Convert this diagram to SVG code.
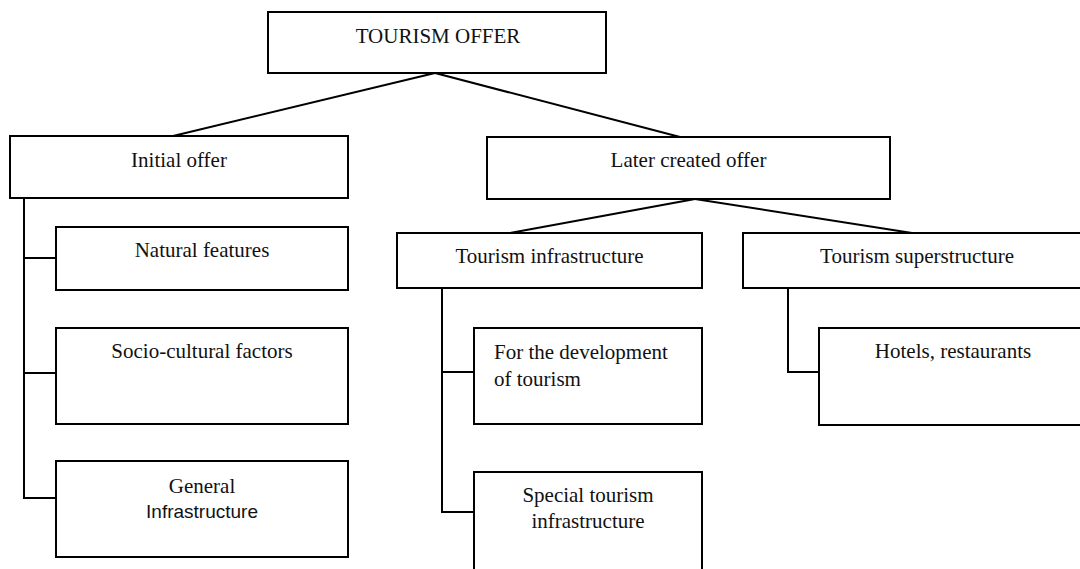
<svg xmlns="http://www.w3.org/2000/svg" width="1080" height="569" viewBox="0 0 1080 569">
<style>
.box{fill:#fff;stroke:#000;stroke-width:2}
.t{font-family:'Liberation Serif','Times New Roman',Tinos,'DejaVu Serif',serif;font-size:21px;fill:#111}
.s{font-family:'Liberation Sans',Arial,sans-serif;font-size:19px;fill:#111}
.c{text-anchor:middle}
.ln{fill:none;stroke:#000;stroke-width:2}
</style>
<rect width="1080" height="569" fill="#fff"/>
<g id="connectors" class="ln">
<line x1="435" y1="73" x2="173" y2="136"/>
<line x1="435" y1="73" x2="680" y2="137"/>
<line x1="695" y1="199" x2="510" y2="233"/>
<line x1="695" y1="199" x2="912" y2="233"/>
<polyline points="24,198 24,498 56,498"/>
<line x1="24" y1="258" x2="56" y2="258"/>
<line x1="24" y1="373" x2="56" y2="373"/>
<polyline points="442,288 442,512 474,512"/>
<line x1="442" y1="372" x2="474" y2="372"/>
<polyline points="788,288 788,372 819,372"/>
</g>
<g id="n-tourism-offer"><rect class="box" x="268" y="12" width="338" height="61"/><text class="t c" x="438" y="43">TOURISM OFFER</text></g>
<g id="n-initial"><rect class="box" x="10" y="136" width="338" height="62"/><text class="t c" x="179" y="167">Initial offer</text></g>
<g id="n-later"><rect class="box" x="487" y="137" width="403" height="62"/><text class="t c" x="688.5" y="167">Later created offer</text></g>
<g id="n-natural"><rect class="box" x="56" y="227" width="292" height="63"/><text class="t c" x="202" y="257">Natural features</text></g>
<g id="n-socio"><rect class="box" x="56" y="328" width="292" height="96"/><text class="t c" x="202" y="358">Socio-cultural factors</text></g>
<g id="n-general"><rect class="box" x="56" y="461" width="292" height="96"/><text class="t c" x="202" y="493">General</text><text class="s c" x="202" y="518">Infrastructure</text></g>
<g id="n-infra"><rect class="box" x="397" y="233" width="305" height="55"/><text class="t c" x="549.5" y="263">Tourism infrastructure</text></g>
<g id="n-super"><rect class="box" x="743" y="233" width="348" height="55"/><text class="t c" x="917" y="263">Tourism superstructure</text></g>
<g id="n-development"><rect class="box" x="474" y="328" width="228" height="96"/><text class="t" x="494" y="359">For the development</text><text class="t" x="494" y="386">of tourism</text></g>
<g id="n-special"><rect class="box" x="474" y="472" width="228" height="110"/><text class="t c" x="588" y="502">Special tourism</text><text class="t c" x="588" y="528">infrastructure</text></g>
<g id="n-hotels"><rect class="box" x="819" y="328" width="268" height="97"/><text class="t c" x="953" y="358">Hotels, restaurants</text></g>
</svg>
